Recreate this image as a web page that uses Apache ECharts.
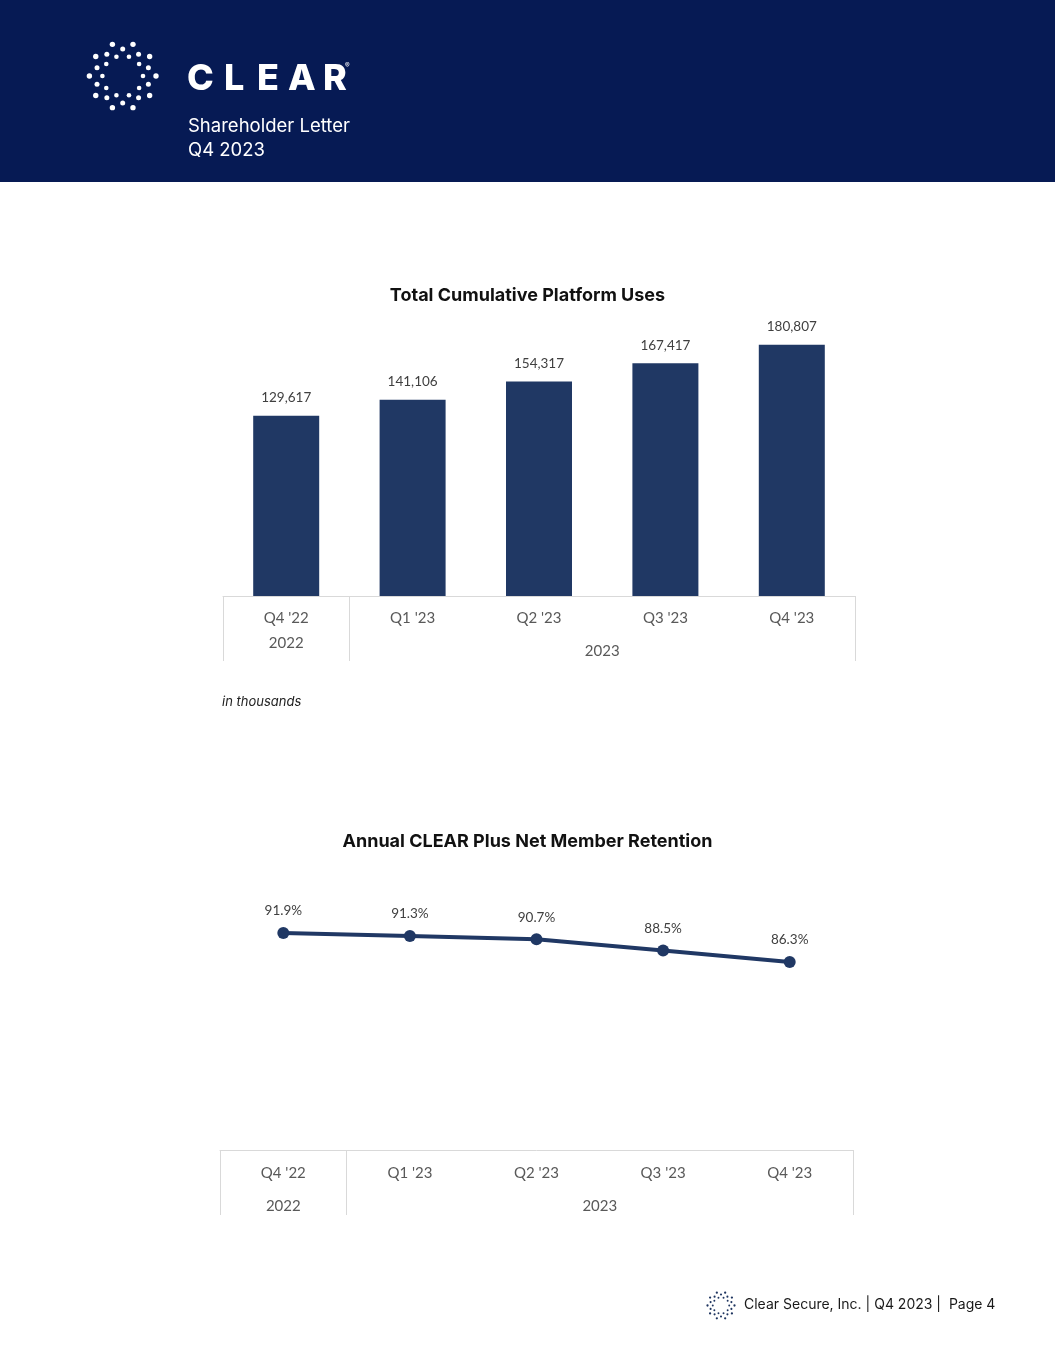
<!DOCTYPE html>
<html>
<head>
<meta charset="utf-8">
<script src="https://cdn.jsdelivr.net/npm/echarts@6/dist/echarts.min.js"></script>
<style>
html,body{margin:0;padding:0;background:#fff;}
#c{width:1055px;height:1365px;}
</style>
</head>
<body>
<div id="c"></div>
<script>
// ---- data ----
const categories = ["Q4 '22", "Q1 '23", "Q2 '23", "Q3 '23", "Q4 '23"];
const categoryYears = ['2022', '2023', '2023', '2023', '2023'];
const platformUses = [129617, 141106, 154317, 167417, 180807];
const retention = [91.9, 91.3, 90.7, 88.5, 86.3];
const titleBar = 'Total Cumulative Platform Uses';
const titleLine = 'Annual CLEAR Plus Net Member Retention';
const unitNote = 'in thousands';
const headerBrand = ['C', 'L', 'E', 'A', 'R'];
const headerSub = ['Shareholder Letter', 'Q4 2023'];
const footerText = 'Clear Secure, Inc. | Q4 2023 |  Page 4';

// ---- year groups derived from category years ----
const groups = [];
categoryYears.forEach((y, i) => {
  if (!groups.length || groups[groups.length - 1].year !== y) groups.push({year: y, start: i, end: i + 1});
  else groups[groups.length - 1].end = i + 1;
});
const groupBounds = [0].concat(groups.map(g => g.end));
const groupMids = groups.map(g => (g.start + g.end) / 2);
function yearAt(v) { const g = groups.find(g => Math.abs((g.start + g.end) / 2 - v) < 1e-6); return g ? g.year : ''; }

const NAVY = '#061a54';
const MARK = '#203864';
const AXIS = '#d9d9d9';
const LBL = '#595959';
const LFONT = 'Lato, "Open Sans", sans-serif';
const IFONT = 'Inter, "Noto Sans", sans-serif';

// ---- logo dots ----
function logoDots(cx, cy, s, fill, dscale) {
  const out = [];
  const rings = [{r: 33.3, off: 18, d: 2.7}, {r: 27, off: 0, d: 2.5}, {r: 20.3, off: 18, d: 2.3}];
  rings.forEach(rg => {
    for (let k = 0; k < 10; k++) {
      const a = (rg.off + 36 * k) * Math.PI / 180;
      out.push({type: 'circle', silent: true,
        shape: {cx: cx + Math.sin(a) * rg.r * s, cy: cy - Math.cos(a) * rg.r * s, r: rg.d * dscale},
        style: {fill: fill}});
    }
  });
  return out;
}

const brandX = [187, 224, 257, 288, 323];
const graphics = [
  {type: 'rect', silent: true, shape: {x: 0, y: 0, width: 1055, height: 182}, style: {fill: NAVY}},
  ...logoDots(122.7, 76, 1, '#ffffff', 1),
  ...headerBrand.map((ch, i) => ({type: 'text', silent: true, x: brandX[i], y: 79,
    style: {text: ch, fill: '#fff', font: '800 36px ' + IFONT, verticalAlign: 'middle'}})),
  {type: 'text', silent: true, x: 345, y: 66, style: {text: '®', fill: '#fff', font: '7px ' + IFONT, verticalAlign: 'middle'}},
  {type: 'text', silent: true, x: 188, y: 126, style: {text: headerSub[0], fill: '#fff', font: '18.5px ' + IFONT, verticalAlign: 'middle'}},
  {type: 'text', silent: true, x: 188, y: 150, style: {text: headerSub[1], fill: '#fff', font: '18.5px ' + IFONT, verticalAlign: 'middle'}},
  {type: 'text', silent: true, x: 222, y: 702, style: {text: unitNote, fill: '#222', font: 'italic 13px ' + IFONT, verticalAlign: 'middle'}},
  ...logoDots(721, 1305.5, 0.405, '#1f3560', 0.42),
  {type: 'text', silent: true, x: 744, y: 1305, style: {text: footerText, fill: '#1a1a1a', font: '14px ' + IFONT, verticalAlign: 'middle'}}
];

function yearAxis(gridIndex, rich) {
  return {
    type: 'value', gridIndex: gridIndex, position: 'bottom', min: 0, max: categories.length,
    axisLine: {show: false}, splitLine: {show: false},
    axisTick: {show: true, customValues: groupBounds, length: 65, lineStyle: {color: AXIS, width: 1}},
    axisLabel: {show: true, customValues: groupMids, margin: rich ? 40 : 49,
      formatter: v => rich ? (yearAt(v) === groups[0].year ? '{a|' + yearAt(v) + '}' : '{b|' + yearAt(v) + '}') : yearAt(v),
      color: LBL, fontFamily: LFONT, fontSize: 15,
      rich: rich ? {a: {color: LBL, fontFamily: LFONT, fontSize: 15}, b: {color: LBL, fontFamily: LFONT, fontSize: 15, padding: [8, 0, 0, 0]}} : undefined}
  };
}

const chart = echarts.init(document.getElementById('c'), null, {renderer: 'canvas'});
chart.setOption({
  animation: false,
  backgroundColor: '#fff',
  title: [
    {text: titleBar, left: 'center', top: 282, textStyle: {fontFamily: IFONT, fontWeight: 700, fontSize: 18, color: '#111'}},
    {text: titleLine, left: 'center', top: 828, textStyle: {fontFamily: IFONT, fontWeight: 700, fontSize: 18, color: '#111'}}
  ],
  grid: [
    {left: 223, right: 200, top: 318, bottom: 1365 - 596},
    {left: 220, right: 202, top: 891, bottom: 1365 - 1150}
  ],
  xAxis: [
    {type: 'category', gridIndex: 0, data: categories, boundaryGap: true,
      axisLine: {lineStyle: {color: AXIS, width: 1}}, axisTick: {show: false},
      axisLabel: {color: LBL, fontFamily: LFONT, fontSize: 15, margin: 15}},
    yearAxis(0, true),
    {type: 'category', gridIndex: 1, data: categories, boundaryGap: true,
      axisLine: {lineStyle: {color: AXIS, width: 1}}, axisTick: {show: false},
      axisLabel: {color: LBL, fontFamily: LFONT, fontSize: 15, margin: 16}},
    yearAxis(1, false)
  ],
  yAxis: [
    {type: 'value', gridIndex: 0, min: 0, max: 200000, show: false, splitLine: {show: false}},
    {type: 'value', gridIndex: 1, min: 50, max: 100, show: false, splitLine: {show: false}}
  ],
  graphic: graphics,
  series: [
    {type: 'bar', xAxisIndex: 0, yAxisIndex: 0, data: platformUses, barWidth: 66,
      itemStyle: {color: MARK},
      label: {show: true, position: 'top', distance: 11, color: '#404040', fontFamily: LFONT, fontSize: 13.5,
        formatter: p => p.value.toLocaleString('en-US')}},
    {type: 'line', xAxisIndex: 2, yAxisIndex: 1, data: retention, symbol: 'circle', symbolSize: 12,
      lineStyle: {color: MARK, width: 4}, itemStyle: {color: MARK},
      label: {show: true, position: 'top', distance: 9, color: '#404040', fontFamily: LFONT, fontSize: 13.5,
        formatter: p => p.value.toFixed(1) + '%'}}
  ]
});
</script>
</body>
</html>
